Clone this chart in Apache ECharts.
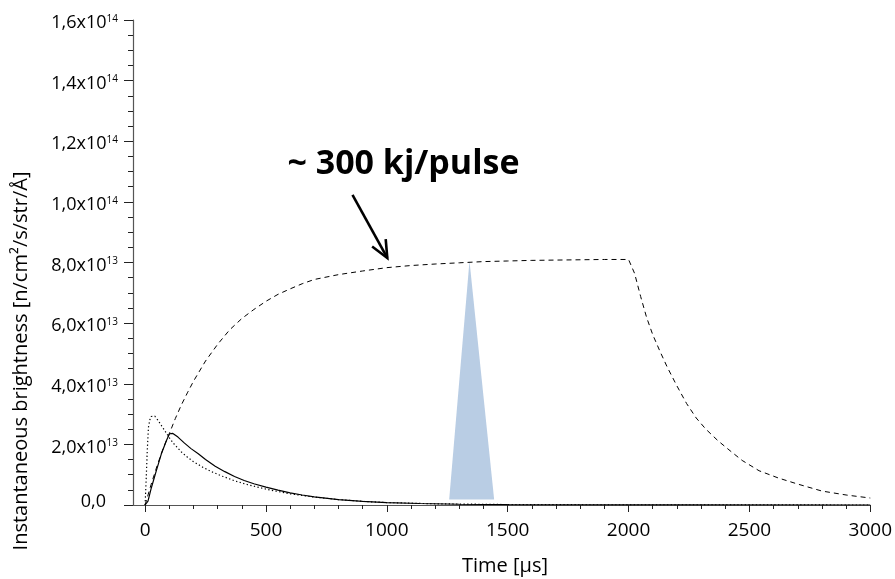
<!DOCTYPE html>
<html><head><meta charset="utf-8">
<script src="https://cdn.jsdelivr.net/npm/echarts@6/dist/echarts.min.js"></script>
<style>html,body{margin:0;padding:0;background:#fff}#c{width:895px;height:579px}</style>
</head><body><div id="c"></div>
<script>
const FONT = '"Open Sans", sans-serif';
// time in µs ; brightness in units of 1e13 n/cm²/s/str/Å
const dashedT = [0,25,50,75,100,125,150,175,200,250,300,350,400,450,500,550,600,650,700,800,900,1000,1100,1200,1300,1400,1500,1600,1700,1800,1900,2000,2025,2050,2075,2100,2130,2160,2200,2240,2280,2320,2370,2420,2470,2540,2620,2700,2800,2900,3000];
const dashedV = [0,0.68,1.3,1.87,2.35,2.85,3.3,3.7,4.08,4.75,5.3,5.78,6.15,6.45,6.72,6.95,7.13,7.3,7.44,7.6,7.72,7.83,7.9,7.95,7.99,8.03,8.05,8.07,8.08,8.09,8.1,8.1,7.64,6.88,6.18,5.62,5.07,4.55,3.93,3.35,2.87,2.5,2.12,1.79,1.47,1.13,0.89,0.69,0.46,0.33,0.23];
const solidT = [0,12,26,46,67,88,101,115,136,163,190,220,250,290,330,370,410,450,500,550,600,650,700,800,900,1000,1136,1300,1500,1800,2200,3000];
const solidV = [0,0.13,0.57,1.12,1.68,2.12,2.35,2.36,2.24,2.04,1.86,1.69,1.5,1.28,1.1,0.94,0.81,0.7,0.59,0.49,0.4,0.33,0.27,0.18,0.12,0.08,0.05,0.025,0.012,0.005,0.002,0];
const dottedT = [0,5,9,14,20,25,32,40,53,80,100,121,150,176,200,240,280,320,370,420,470,520,600,700,800,900,1000,1200,1500,2000,3000];
const dottedV = [0,0.94,1.8,2.57,2.82,2.92,2.97,2.93,2.8,2.47,2.22,2.0,1.75,1.57,1.43,1.24,1.08,0.95,0.8,0.68,0.58,0.49,0.37,0.26,0.18,0.12,0.08,0.04,0.015,0.005,0];
const pulseT = [1258,1342,1444];
const pulseV = [0.18,8.05,0.18];

const xTicks = [0,500,1000,1500,2000,2500,3000];
const xMinorTicks = [0,100,200,300,400,500,600,700,800,900,1000,1100,1200,1300,1400,1500,1600,1700,1800,1900,2000,2100,2200,2300,2400,2500,2600,2700,2800,2900,3000];
const yTickMantissa = ['0,0','2,0','4,0','6,0','8,0','1,0','1,2','1,4','1,6'];
const yTickExp = ['','13','13','13','13','14','14','14','14'];

const annotText = '~ 300 kj/pulse';
const annotAt = [1069, 11.25];
const arrowFrom = [858, 10.23];
const arrowTo = [1002, 8.15];

const zip = (a,b) => a.map((t,i)=>[t,b[i]]);
const chart = echarts.init(document.getElementById('c'), null, {renderer:'canvas'});
const AX = '#555';
chart.setOption({
  animation:false,
  backgroundColor:'#fff',
  grid:{left:133,right:24,top:20,bottom:74,containLabel:false},
  xAxis:[{
    type:'value', min:-50, max:3000,
    axisLine:{show:true,onZero:false,lineStyle:{color:AX,width:1.2}},
    axisTick:{show:true,customValues:xTicks,length:7,lineStyle:{color:'#222',width:1}},
    axisLabel:{show:true,customValues:xTicks,margin:16,fontSize:19,fontFamily:FONT,color:'#000',
      formatter:(v)=>String(v)},
    splitLine:{show:false}
  },{
    type:'value', min:-50, max:3000, position:'bottom',
    axisLine:{show:false},
    axisTick:{show:true,customValues:xMinorTicks,length:4,lineStyle:{color:'#222',width:1}},
    axisLabel:{show:false},
    splitLine:{show:false}
  }],
  yAxis:{
    type:'value', min:0, max:16, interval:2,
    axisLine:{show:true,onZero:false,lineStyle:{color:AX,width:1.2}},
    axisTick:{show:true,length:9,lineStyle:{color:'#222',width:1}},
    minorTick:{show:true,splitNumber:4,length:5,lineStyle:{color:'#222',width:1}},
    splitLine:{show:false},
    axisLabel:{
      margin:15,
      formatter:(v)=>{
        const i = Math.round(v/2);
        if (i===0) return '{z|'+yTickMantissa[0]+'}';
        return '{b|'+yTickMantissa[i]+'x10}{s|'+yTickExp[i]+'}';
      },
      rich:{
        b:{fontSize:18,lineHeight:18,fontFamily:FONT,color:'#000',padding:[6,0,0,0]},
        s:{fontSize:10,lineHeight:10,fontFamily:FONT,color:'#000',verticalAlign:'top',padding:[3,0,0,0]},
        z:{fontSize:18,lineHeight:18,fontFamily:FONT,color:'#000',padding:[0,12,6,0]}
      }
    }
  },
  series:[
    {
      type:'custom', xAxisIndex:0, yAxisIndex:0, z:1,
      data: zip(pulseT,pulseV),
      encode:{x:0,y:1},
      renderItem:(params,api)=>{
        if (params.dataIndex!==0) return null;
        const pts = pulseT.map((t,i)=>api.coord([t,pulseV[i]]));
        return {type:'polygon',shape:{points:pts},style:{fill:'#b9cde4',stroke:null}};
      }
    },
    {type:'line',xAxisIndex:0,z:3,data:zip(dashedT,dashedV),symbol:'none',smooth:false,
     lineStyle:{color:'#000',width:1,type:[5,4]}},
    {type:'line',xAxisIndex:0,z:3,data:zip(solidT,solidV),symbol:'none',smooth:false,
     lineStyle:{color:'#000',width:1.2}},
    {type:'line',xAxisIndex:0,z:3,data:zip(dottedT,dottedV),symbol:'none',smooth:false,
     lineStyle:{color:'#000',width:1.2,type:[1.3,2.4]}}
  ]
});

function px(p){ return chart.convertToPixel({xAxisIndex:0,yAxisIndex:0}, p); }
const a0 = px(arrowFrom), a1 = px(arrowTo), tp = px(annotAt);
const ang = Math.atan2(a1[1]-a0[1], a1[0]-a0[0]);
const headLen = 19, spread = 0.42;
const h1 = [a1[0]-headLen*Math.cos(ang-spread), a1[1]-headLen*Math.sin(ang-spread)];
const h2 = [a1[0]-headLen*Math.cos(ang+spread), a1[1]-headLen*Math.sin(ang+spread)];
chart.setOption({
  graphic:[
    {type:'text', x:21, y:361, rotation:Math.PI/2,
     style:{text:'Instantaneous brightness [n/cm²/s/str/Å]', font:'20px '+FONT, fill:'#000', align:'center', verticalAlign:'middle'}},
    {type:'text', x:505, y:566,
     style:{text:'Time [µs]', font:'20px '+FONT, fill:'#000', align:'center', verticalAlign:'middle'}},
    {type:'text', x:tp[0], y:tp[1],
     style:{text:annotText, font:'bold 34px '+FONT, fill:'#000', align:'center', verticalAlign:'middle'}},
    {type:'line', shape:{x1:a0[0],y1:a0[1],x2:a1[0],y2:a1[1]}, style:{stroke:'#000',lineWidth:2.6}},
    {type:'polyline', shape:{points:[h1,a1,h2]}, style:{stroke:'#000',lineWidth:2.6,fill:null,lineJoin:'miter'}}
  ]
});
</script>
</body></html>
